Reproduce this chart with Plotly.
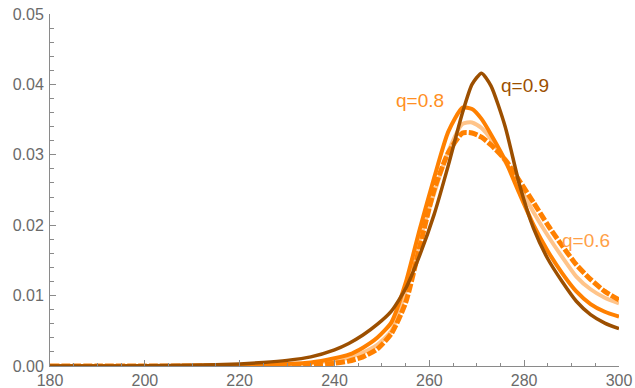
import plotly.graph_objects as go

x = [180, 190, 200, 210, 220, 225, 230, 235, 240, 243, 246, 249, 252, 255, 258,
     261, 264, 267, 269, 271, 273, 276, 279, 282, 285, 288, 291, 294, 297, 300]

q09 = [0.0, 0.00001, 0.00003, 0.0001, 0.0003, 0.0005, 0.0008, 0.0013, 0.0023, 0.0032,
       0.0044, 0.0059, 0.0078, 0.0110, 0.0158, 0.0215, 0.0285, 0.0360, 0.0400, 0.0416,
       0.0398, 0.0340, 0.0258, 0.0195, 0.0152, 0.0120, 0.0092, 0.0073, 0.0061, 0.0053]

q08 = [0.0, 0.0, 0.00001, 0.00003, 0.0001, 0.0002, 0.0003, 0.0005, 0.0011, 0.0016,
       0.0026, 0.0040, 0.0062, 0.0118, 0.0195, 0.0267, 0.0333, 0.0367, 0.0365, 0.0351,
       0.0329, 0.0292, 0.0245, 0.0200, 0.0163, 0.0132, 0.0106, 0.0088, 0.0077, 0.0070]

q06 = [0.0, 0.0, 0.00001, 0.00002, 0.00006, 0.0001, 0.0002, 0.0004, 0.0008, 0.0012,
       0.0019, 0.0030, 0.0050, 0.0105, 0.0180, 0.0245, 0.0305, 0.0344, 0.0346, 0.0338,
       0.0322, 0.0290, 0.0255, 0.0218, 0.0185, 0.0155, 0.0127, 0.0109, 0.0097, 0.0089]

qd = [0.0, 0.0, 0.0, 0.00001, 0.00003, 0.00006, 0.0001, 0.0002, 0.0004, 0.0007,
      0.0013, 0.0024, 0.0046, 0.0090, 0.0170, 0.0250, 0.0303, 0.0331, 0.0331, 0.0325,
      0.0314, 0.0293, 0.0263, 0.0232, 0.0200, 0.0171, 0.0144, 0.0123, 0.0106, 0.0094]

labels = ["q=0.9", "q=0.8", "q=0.6"]
label_x = [274.6, 258.0, 293.0]
label_y = [0.0398, 0.0377, 0.0178]

BROWN = "#9C4F00"
ORANGE = "#FF8000"
PEACH = "#FFC48A"

fig = go.Figure()
fig.add_trace(go.Scatter(x=x, y=q06, mode="lines", line=dict(color=PEACH, width=4, shape="spline", smoothing=0.6)))
fig.add_trace(go.Scatter(x=x, y=q08, mode="lines", line=dict(color=ORANGE, width=4, shape="spline", smoothing=0.6)))
fig.add_trace(go.Scatter(x=x, y=qd, mode="lines", line=dict(color=ORANGE, width=5, shape="spline", smoothing=0.6, dash="9px,2px")))
fig.add_trace(go.Scatter(x=x, y=q09, mode="lines", line=dict(color=BROWN, width=3.5, shape="spline", smoothing=0.6)))

label_colors = [BROWN, "#FF8F24", "#FFA047"]
label_anchor = ["left", "center", "center"]
for t, lx, ly, c, a in zip(labels, label_x, label_y, label_colors, label_anchor):
    fig.add_annotation(x=lx, y=ly, text=t, showarrow=False, xanchor=a, yanchor="middle",
                       font=dict(family="Liberation Sans, Arial, sans-serif", size=19, color=c))

axis_font = dict(family="Liberation Sans, Arial, sans-serif", size=16, color="#6a6a6a")
fig.update_layout(
    width=635, height=388,
    margin=dict(l=50, r=16, t=14, b=22, autoexpand=False),
    paper_bgcolor="white", plot_bgcolor="white",
    showlegend=False,
    xaxis=dict(range=[180, 300], tickvals=[180, 200, 220, 240, 260, 280, 300],
               automargin=False, ticklabelstandoff=0,
               ticks="inside", ticklen=6, tickcolor="#8a8a8a", tickwidth=1,
               showline=True, linecolor="#8a8a8a", linewidth=1,
               showgrid=False, zeroline=False, tickfont=axis_font,
               minor=dict(ticks="inside", ticklen=3.5, dtick=5, tick0=180, tickcolor="#8a8a8a", showgrid=False)),
    yaxis=dict(range=[0, 0.05], tickvals=[0, 0.01, 0.02, 0.03, 0.04, 0.05],
               tickformat=".2f", automargin=False, ticklabelstandoff=2,
               ticks="inside", ticklen=6, tickcolor="#8a8a8a", tickwidth=1,
               showline=True, linecolor="#8a8a8a", linewidth=1,
               showgrid=False, zeroline=False, tickfont=axis_font,
               minor=dict(ticks="inside", ticklen=3.5, dtick=0.002, tick0=0, tickcolor="#8a8a8a", showgrid=False)),
)

fig.write_html("out.html")
